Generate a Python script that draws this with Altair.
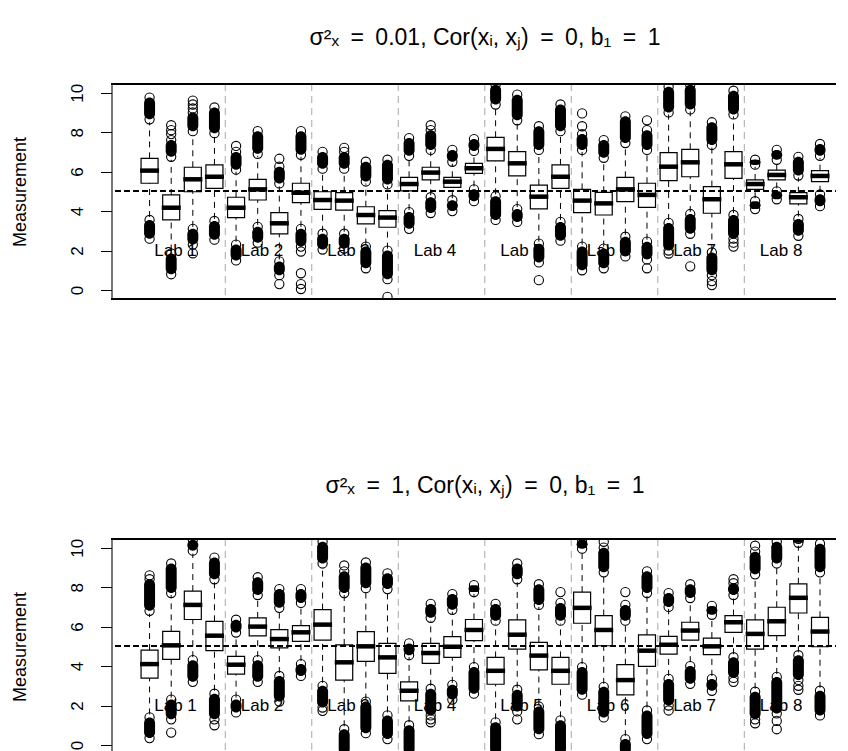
import altair as alt
import pandas as pd

POS = list(range(1, 33))
LABS = ["Lab 1", "Lab 2", "Lab 3", "Lab 4", "Lab 5", "Lab 6", "Lab 7", "Lab 8"]
LAB_POS = [2.2, 6.2, 10.2, 14.2, 18.2, 22.2, 26.2, 30.2]
SEP_POS = [4.5, 8.5, 12.5, 16.5, 20.5, 24.5, 28.5]
Y_TICKS = [0, 2, 4, 6, 8, 10]
REF_LINE = 5

SP = "\u2002"
TITLE_TOP = f"σ²ₓ{SP}={SP}0.01, Cor(xᵢ, xⱼ){SP}={SP}0, b₁{SP}={SP}1"
TITLE_BOT = f"σ²ₓ{SP}={SP}1, Cor(xᵢ, xⱼ){SP}={SP}0, b₁{SP}={SP}1"

# ---- top panel ----
TOP_Q1 = [5.41, 3.55, 4.98, 5.15, 3.67, 4.56, 2.84, 4.43, 4.09, 4.05, 3.35, 3.18, 5.02, 5.58, 5.20, 5.91,
          6.54, 5.78, 4.11, 5.15, 3.92, 3.80, 4.48, 4.19, 5.54, 5.74, 3.89, 5.66, 5.10, 5.58, 4.36, 5.49]
TOP_MED = [6.05, 4.17, 5.61, 5.74, 4.17, 5.10, 3.38, 4.93, 4.56, 4.53, 3.80, 3.67, 5.37, 5.95, 5.49, 6.17,
           7.15, 6.42, 4.73, 5.74, 4.53, 4.39, 5.10, 4.82, 6.25, 6.47, 4.60, 6.37, 5.37, 5.83, 4.70, 5.78]
TOP_Q3 = [6.67, 4.82, 6.22, 6.34, 4.70, 5.61, 3.92, 5.41, 4.98, 4.93, 4.22, 4.02, 5.71, 6.22, 5.71, 6.42,
          7.74, 7.01, 5.32, 6.34, 5.10, 4.95, 5.71, 5.41, 6.96, 7.13, 5.24, 7.01, 5.58, 6.08, 4.93, 6.05]
TOP_WLO = [3.7, 2.0, 3.2, 3.6, 2.45, 3.3, 1.55, 3.2, 2.95, 2.95, 2.3, 2.1, 4.05, 4.8, 4.65, 5.24,
           4.85, 4.2, 2.45, 3.55, 2.3, 2.2, 2.8, 2.55, 3.55, 3.95, 2.0, 3.9, 4.65, 5.15, 3.72, 4.98]
TOP_WHI = [8.5, 6.6, 7.9, 7.85, 6.0, 6.8, 5.25, 6.75, 6.05, 6.05, 5.4, 5.25, 6.7, 7.0, 6.4, 6.95,
           9.3, 8.5, 7.0, 7.95, 7.0, 6.6, 7.35, 7.0, 8.9, 9.05, 7.25, 8.8, 6.25, 6.5, 5.7, 6.7]
TOP_HI_FROM = [8.65, 6.75, 8.05, 7.95, 6.1, 6.9, 5.4, 6.85, 6.15, 6.15, 5.5, 5.35, 6.8, 7.1, 6.5, 7.05,
               9.4, 8.6, 7.1, 8.05, 7.1, 6.7, 7.45, 7.1, 9.0, 9.15, 7.35, 8.9, 6.35, 6.6, 5.8, 6.8]
TOP_HI_TO = [9.75, 7.6, 9.0, 9.25, 7.0, 8.05, 6.25, 8.05, 7.0, 7.0, 6.5, 6.6, 7.7, 8.1, 7.1, 7.65,
             10.4, 9.9, 8.3, 9.4, 7.9, 7.6, 8.8, 8.1, 10.3, 10.4, 8.5, 10.1, 6.6, 7.1, 6.75, 7.4]
TOP_LO_FROM = [3.55, 1.85, 3.1, 3.5, 2.3, 3.2, 1.45, 3.1, 2.85, 2.85, 2.2, 2.0, 3.95, 4.7, 4.55, 5.1,
               4.75, 4.1, 2.35, 3.45, 2.2, 2.1, 2.7, 2.45, 3.4, 3.85, 1.9, 3.8, 4.5, 5.0, 3.6, 4.85]
TOP_LO_TO = [2.6, 0.8, 2.3, 2.55, 1.5, 2.4, 0.75, 2.2, 2.05, 2.1, 1.1, 0.55, 3.1, 3.9, 4.0, 4.5,
             3.55, 3.45, 1.4, 2.5, 1.0, 1.1, 1.7, 1.55, 2.0, 2.85, 0.75, 2.6, 4.1, 4.6, 2.75, 4.25]
TOP_ISO_BOX = [2, 2, 2, 3, 3, 3, 3, 5, 7, 7, 8, 8, 8, 8, 10, 12, 14, 19, 21, 21, 24, 24, 25, 26, 27, 27, 28, 28]
TOP_ISO_VAL = [7.9, 8.1, 8.35, 9.2, 9.4, 9.6, 1.86, 7.3, 6.65, 0.3, 1.95, 0.85, 0.3, 0.05, 7.2, -0.35, 8.35,
               0.5, 8.3, 8.95, 8.6, 1.1, 1.85, 1.2, 0.45, 0.25, 2.4, 2.2]

# ---- bottom panel ----
BOT_Q1 = [3.39, 4.34, 6.36, 4.78, 3.59, 5.53, 4.92, 5.25, 5.32, 3.29, 4.24, 3.63, 2.24, 4.14, 4.44, 5.29,
          3.08, 4.86, 3.81, 3.08, 6.17, 5.03, 2.54, 3.98, 4.61, 5.32, 4.58, 5.71, 4.86, 5.54, 6.69, 4.98]
BOT_MED = [4.10, 5.05, 7.10, 5.54, 4.07, 6.00, 5.37, 5.71, 6.10, 4.19, 5.00, 4.44, 2.75, 4.66, 4.98, 5.83,
           3.76, 5.59, 4.53, 3.76, 6.95, 5.83, 3.29, 4.78, 5.08, 5.80, 5.00, 6.22, 5.63, 6.27, 7.46, 5.75]
BOT_Q3 = [4.81, 5.76, 7.80, 6.27, 4.49, 6.44, 5.85, 6.05, 6.86, 5.07, 5.75, 5.15, 3.20, 5.15, 5.49, 6.36,
          4.44, 6.34, 5.20, 4.44, 7.75, 6.56, 4.07, 5.58, 5.51, 6.22, 5.42, 6.56, 6.34, 6.98, 8.17, 6.47]
BOT_WLO = [1.55, 2.4, 4.45, 2.75, 2.4, 4.45, 3.65, 4.25, 3.15, 0.95, 2.3, 1.65, 1.15, 3.0, 3.15, 4.1,
           1.3, 2.9, 2.05, 1.4, 4.1, 3.1, 0.45, 1.9, 3.5, 4.2, 3.5, 4.6, 2.85, 3.6, 4.7, 2.9]
BOT_WHI = [6.65, 7.6, 9.7, 8.25, 5.55, 7.5, 6.8, 7.07, 9.0, 7.6, 7.85, 7.75, 4.45, 6.3, 6.75, 7.65,
           6.15, 8.25, 7.0, 6.15, 9.8, 8.6, 6.15, 7.6, 6.9, 7.3, 6.5, 7.5, 8.5, 9.0, 10.1, 8.6]
BOT_HI_FROM = [6.8, 7.7, 9.85, 8.4, 5.7, 7.6, 6.95, 7.2, 9.2, 7.7, 7.95, 7.9, 4.55, 6.45, 6.85, 7.75,
               6.3, 8.4, 7.1, 6.3, 9.95, 8.75, 6.3, 7.7, 7.0, 7.45, 6.6, 7.6, 8.65, 9.2, 10.25, 8.75]
BOT_HI_TO = [8.4, 9.2, 10.4, 9.5, 6.35, 8.5, 7.9, 7.9, 10.3, 8.8, 9.25, 8.7, 5.15, 7.15, 7.65, 8.1,
             7.15, 9.2, 8.15, 7.2, 10.4, 10.0, 7.1, 8.8, 7.7, 8.15, 7.05, 8.2, 9.8, 10.3, 10.45, 10.2]
BOT_LO_FROM = [1.4, 2.3, 4.3, 2.6, 2.3, 4.3, 3.5, 4.1, 3.0, 0.8, 2.2, 1.5, 1.0, 2.85, 3.05, 3.95,
               1.15, 2.8, 1.95, 1.25, 3.95, 2.95, 0.3, 1.75, 3.35, 4.0, 3.35, 4.45, 2.7, 3.45, 4.55, 2.75]
BOT_LO_TO = [0.35, 1.3, 3.2, 1.3, 1.65, 3.2, 2.2, 3.5, 1.9, -0.5, 0.6, 0.3, -0.5, 1.5, 2.3, 2.6,
             -0.5, 1.7, 0.55, -0.5, 2.55, 1.4, -0.5, 0.3, 2.0, 3.1, 2.75, 3.4, 1.3, 1.6, 3.3, 1.5]
BOT_ISO_BOX = [1, 2, 4, 9, 10, 14, 14, 18, 20, 22, 23, 25, 28, 28, 29, 29, 30, 30, 31, 31]
BOT_ISO_VAL = [8.6, 0.63, 1.0, 1.73, 9.1, 1.3, 1.15, 1.3, 7.75, 10.3, 7.75, 1.75, 8.4, 3.2, 10.1, 1.1,
               1.22, 0.8, 3.0, 2.8]

X_DOMAIN = [-0.76, 33.78]
Y_DOMAIN = [-0.456, 10.44]
W, H = 747, 215
FONT = "Liberation Sans"

xscale = alt.Scale(domain=X_DOMAIN, nice=False, zero=False, padding=0)
yscale = alt.Scale(domain=Y_DOMAIN, nice=False, zero=False, padding=0)
yaxis = alt.Axis(values=Y_TICKS, title="Measurement", grid=False, labelAngle=270,
                 labelAlign="center", labelBaseline="bottom", labelPadding=14,
                 labelFontSize=17, labelFont=FONT, labelColor="black",
                 tickSize=11, tickColor="black", domainColor="black", domainWidth=1,
                 titleFont=FONT, titleFontSize=18, titleFontWeight="normal", titleColor="black",
                 titleAngle=270, titleAlign="center", titleBaseline="middle", titleX=-91.5)


def yq(field):
    return alt.Y(field, type="quantitative", scale=yscale, axis=yaxis)


def ydat(v):
    return alt.YDatum(v, type="quantitative", scale=yscale, axis=yaxis)


def panel(q1, med, q3, wlo, whi, hf, ht, lf, lt, isob, isov, title, offset):
    df = pd.DataFrame(dict(pos=POS, q1=q1, med=med, q3=q3, wlo=wlo, whi=whi,
                           hf=hf, ht=ht, lf=lf, lt=lt))
    ends = pd.DataFrame(dict(pos=POS * 4, v=hf + ht + lf + lt))
    iso = pd.DataFrame(dict(pos=isob, v=isov))
    seps = pd.DataFrame(dict(pos=SEP_POS))
    labs = pd.DataFrame(dict(pos=LAB_POS, lab=LABS))
    X = alt.X("pos:Q", scale=xscale, axis=None)
    base = alt.Chart(df)

    sep = alt.Chart(seps).mark_rule(color="#a8a8a8", strokeDash=[7, 5], strokeWidth=1).encode(x=X)
    ref = alt.Chart(df).mark_rule(color="black", strokeDash=[5, 4], strokeWidth=1).encode(y=ydat(REF_LINE))
    top_b = alt.Chart(df).mark_rule(color="black", strokeWidth=1).encode(y=ydat(Y_DOMAIN[1]))
    bot_b = alt.Chart(df).mark_rule(color="black", strokeWidth=1).encode(y=ydat(Y_DOMAIN[0]))
    txt = alt.Chart(labs).mark_text(font=FONT, fontSize=17, color="black", baseline="middle").encode(
        x=X, y=ydat(2), text="lab:N")
    wh_hi = base.mark_rule(color="black", strokeDash=[6, 5], strokeWidth=1).encode(x=X, y=yq("q3"), y2="whi")
    wh_lo = base.mark_rule(color="black", strokeDash=[6, 5], strokeWidth=1).encode(x=X, y=yq("wlo"), y2="q1")
    cl_hi = base.mark_bar(size=11, cornerRadius=5.5, color="black", clip=True).encode(x=X, y=yq("hf"), y2="ht")
    cl_lo = base.mark_bar(size=11, cornerRadius=5.5, color="black", clip=True).encode(x=X, y=yq("lf"), y2="lt")
    ec = alt.Chart(ends).mark_point(shape="circle", size=85, filled=False, color="black", opacity=1,
                                    strokeWidth=1.1, clip=True).encode(x=X, y=yq("v"))
    ic = alt.Chart(iso).mark_point(shape="circle", size=85, filled=False, color="black", opacity=1,
                                   strokeWidth=1.1, clip=True).encode(x=X, y=yq("v"))
    box = base.mark_bar(size=17, fill=None, fillOpacity=0, stroke="black", strokeWidth=1.2).encode(
        x=X, y=yq("q1"), y2="q3")
    md = base.mark_tick(orient="horizontal", size=19, thickness=4.5, color="black", opacity=1).encode(
        x=X, y=yq("med"))

    return alt.layer(sep, ref, txt, wh_hi, wh_lo, cl_hi, cl_lo, ec, ic, box, md, top_b, bot_b).properties(
        width=W, height=H,
        title=alt.TitleParams(text=title, font=FONT, fontSize=23, fontWeight="normal", color="black",
                              anchor="middle", offset=offset))


top = panel(TOP_Q1, TOP_MED, TOP_Q3, TOP_WLO, TOP_WHI, TOP_HI_FROM, TOP_HI_TO, TOP_LO_FROM, TOP_LO_TO,
            TOP_ISO_BOX, TOP_ISO_VAL, TITLE_TOP, 33)
bot = panel(BOT_Q1, BOT_MED, BOT_Q3, BOT_WLO, BOT_WHI, BOT_HI_FROM, BOT_HI_TO, BOT_LO_FROM, BOT_LO_TO,
            BOT_ISO_BOX, BOT_ISO_VAL, TITLE_BOT, 40)

chart = alt.vconcat(top, bot, spacing=240, bounds="flush").properties(
    padding={"left": 2.5, "top": 18, "right": -24, "bottom": -3}
).configure_view(stroke=None).configure(background="white")

chart.save("out.html", embed_options={"renderer": "svg", "actions": False})
